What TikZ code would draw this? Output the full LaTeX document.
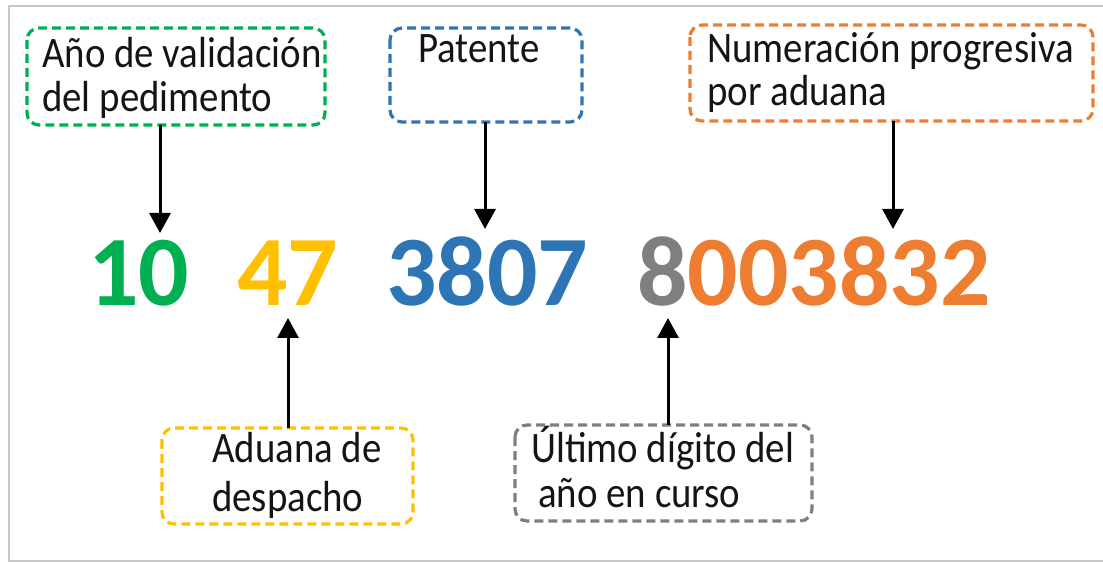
\documentclass[tikz,border=0pt]{standalone}
\usepackage{fontspec}
\setmainfont{Carlito}
\usetikzlibrary{arrows.meta}
\definecolor{cgreen}{HTML}{00B050}
\definecolor{cyellow}{HTML}{FFC000}
\definecolor{cblue}{HTML}{2E75B6}
\definecolor{cgray}{HTML}{7F7F7F}
\definecolor{corange}{HTML}{ED7D31}
\definecolor{ctext}{HTML}{141414}
\definecolor{cframe}{HTML}{C8C8C8}
\newcommand\stretchtxt[1]{\scalebox{1}[1.12]{#1}}
\tikzset{
  lbox/.style={draw, dashed, dash pattern=on 9bp off 5bp, line width=3.2bp, rounded corners=12bp},
  lbl/.style={anchor=base west, inner sep=0pt, text=ctext, font=\fontsize{39}{46}\selectfont},
  num/.style={anchor=base west, inner sep=0pt, font=\fontsize{100}{100}\selectfont\bfseries},
  arr/.style={-{Triangle[width=21bp,length=20bp]}, line width=3bp, black}
}
\begin{document}
\begin{tikzpicture}[x=1bp,y=-1bp]
\useasboundingbox (0,0) rectangle (1103,562);
\draw[cframe, line width=2bp] (9,6) rectangle (1110,561);
% boxes
\draw[lbox, cgreen] (27,28) rectangle (325,125);
\coordinate (gb) at (160,125);
\draw[lbox, cblue] (390,28) rectangle (582,122);
\coordinate (bb) at (485,122);
\draw[lbox, corange] (690,25) rectangle (1093,121);
\coordinate (ob) at (893,121);
\draw[lbox, cyellow] (162,428) rectangle (413,524);
\coordinate (yb) at (288,428);
\draw[lbox, cgray] (515,425) rectangle (812,521);
\coordinate (kb) at (668,425);
% labels
\node[lbl] (g1) at (42,68) {\stretchtxt{Año de validación}};
\node[lbl] (g2) at (42,112) {\stretchtxt{del pedimento}};
\node[lbl] (b1) at (418,63) {\stretchtxt{Patente}};
\node[lbl] (o1) at (707,63) {\stretchtxt{Numeración progresiva}};
\node[lbl] (o2) at (707,106) {\stretchtxt{por aduana}};
\node[lbl] (y1) at (212,462) {\stretchtxt{Aduana de}};
\node[lbl] (y2) at (212,511) {\stretchtxt{despacho}};
\node[lbl] (k1) at (531,462) {\stretchtxt{Último dígito del}};
\node[lbl] (k2) at (538,507) {\stretchtxt{año en curso}};
% numbers
\node[num, text=cgreen] (n1) at (88,306) {10};
\node[num, text=cyellow] (n2) at (237,306) {47};
\node[num, text=cblue] (n3) at (386,306) {3807};
\node[num] (n4) at (637,306) {\textcolor{cgray}{8}\textcolor{corange}{003832}};
% arrows
\coordinate (gt) at (160,233);
\coordinate (bt) at (485,229);
\coordinate (ot) at (893,229);
\coordinate (yt) at (288,318);
\coordinate (kt) at (668,318);
\draw[arr] (gb) -- (gt);
\draw[arr] (bb) -- (bt);
\draw[arr] (ob) -- (ot);
\draw[arr] (yb) -- (yt);
\draw[arr] (kb) -- (kt);
\end{tikzpicture}
\end{document}
